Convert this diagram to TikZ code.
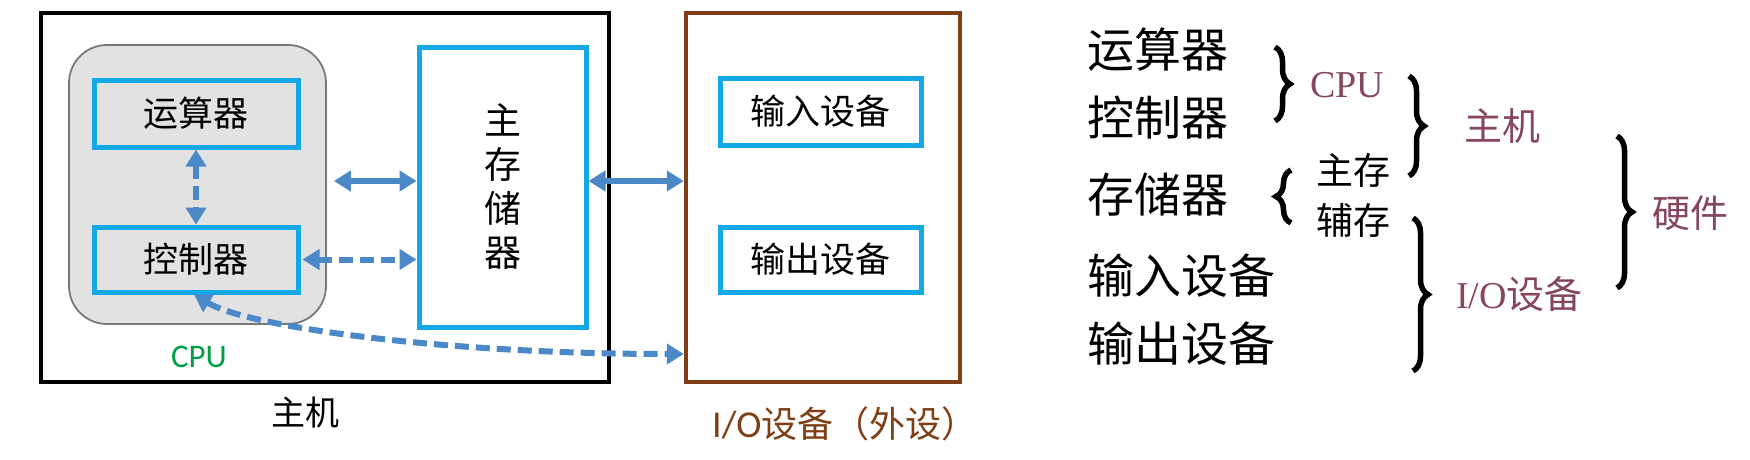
\documentclass[tikz,border=0pt]{standalone}
\usepackage{fontspec}
\setmainfont{Liberation Serif}
\newfontfamily\cjk{Noto Sans CJK SC}
\newfontfamily\carl{Carlito}
\newfontfamily\tnr{Liberation Serif}
\usetikzlibrary{arrows.meta,decorations.pathreplacing,calc}
\definecolor{boxblue}{RGB}{20,168,230}
\definecolor{arrblue}{RGB}{74,136,200}
\definecolor{iobrown}{RGB}{128,62,22}
\definecolor{cpugreen}{RGB}{0,160,70}
\definecolor{lblpurple}{RGB}{135,70,95}
\definecolor{cpugray}{RGB}{226,226,226}
\definecolor{cpuedge}{RGB}{120,120,120}
\begin{document}
\begin{tikzpicture}[x=1pt,y=-1pt,
  bluebox/.style={draw=boxblue,line width=5pt,inner sep=0pt},
  lefttxt/.style={font={\cjk\fontsize{35}{42}\selectfont}},
  arr/.style={draw=arrblue,line width=6pt,{Triangle[length=17pt,width=20pt]}-{Triangle[length=17pt,width=20pt]}},
  darr/.style={arr,line width=6pt,dash pattern=on 14pt off 7pt},
  brc/.style={draw=black,line width=5.5pt,decorate,decoration={brace,amplitude=15pt}},
  bigtxt/.style={anchor=west,inner sep=0pt,font={\cjk\fontsize{47}{56}\selectfont}},
  smalltxt/.style={anchor=west,inner sep=0pt,font={\cjk\fontsize{37}{44}\selectfont}},
  purp/.style={anchor=west,inner sep=0pt,text=lblpurple,font={\cjk\fontsize{38}{44}\selectfont}}
]
\useasboundingbox (0,0) rectangle (1750,459);
\fill[white] (0,0) rectangle (1750,459);

% host box
\node[draw=black,line width=4.5pt,minimum width=568pt,minimum height=369pt,inner sep=0pt] (host) at (325,197.5) {};
\node[draw=cpuedge,fill=cpugray,line width=1.8pt,rounded corners=38pt,minimum width=257pt,minimum height=279pt,inner sep=0pt] (cpu) at (197.5,184.5) {};
\node[bluebox,minimum width=204pt,minimum height=67pt,lefttxt] (alu) at (196,113.5) {运算器};
\node[bluebox,minimum width=204pt,minimum height=65pt,lefttxt] (cu) at (196,259.5) {控制器};
\node[bluebox,minimum width=167pt,minimum height=280pt,align=center,font={\cjk\fontsize{37}{44}\selectfont}] (mem) at (502.5,187) {主\\存\\储\\器};
\node[text=cpugreen,font={\carl\fontsize{33}{40}\selectfont},inner sep=0pt] (cpulbl) at (199,357) {CPU};
\node[font={\cjk\fontsize{34}{40}\selectfont},inner sep=0pt] (hostlbl) at (305,413) {主机};

% io box
\node[draw=iobrown,line width=4.5pt,minimum width=274pt,minimum height=369pt,inner sep=0pt] (io) at (823,197.5) {};
\node[bluebox,minimum width=201pt,minimum height=67pt,lefttxt] (inp) at (820.5,111.5) {输入设备};
\node[bluebox,minimum width=201pt,minimum height=65pt,lefttxt] (outp) at (820.5,259.5) {输出设备};
\node[text=iobrown,inner sep=0pt,anchor=west] (iolbl) at (712,424) {{\carl\fontsize{38}{44}\selectfont I/O}{\cjk\fontsize{36}{44}\selectfont 设备（外设）}};

% connectors
\draw[darr] (alu.south) -- (cu.north);
\draw[arr] ($(cpu.east)+(7,-3.5)$) -- (mem.west |- 0,181);
\draw[darr] ([xshift=2pt]cu.east) -- (mem.west |- cu.east);
\draw[arr] (mem.east |- 0,181) -- (io.west |- 0,181);
\draw[darr] ([xshift=-2pt]cu.south) .. controls (250,328) and (450,354) .. (io.west |- 0,354);

% right side
\node[bigtxt] (r1) at (1087,50) {运算器};
\node[bigtxt] (r2) at (1087,118) {控制器};
\node[bigtxt] (r3) at (1087,195) {存储器};
\node[bigtxt] (r4) at (1087,276) {输入设备};
\node[bigtxt] (r5) at (1087,344) {输出设备};

\coordinate (b1t) at (1275,47);
\coordinate (b1b) at (1275,121);
\draw[brc] (b1t) -- (b1b);
\node[anchor=west,inner sep=0pt,text=lblpurple,font={\tnr\fontsize{38}{44}\selectfont}] (cpur) at (1310,85) {CPU};

\coordinate (b2t) at (1409,76);
\coordinate (b2b) at (1409,176);
\draw[brc] (b2t) -- (b2b);
\node[purp] (hostr) at (1464,126) {主机};

\coordinate (b3t) at (1291,170);
\coordinate (b3b) at (1291,223);
\draw[brc] (b3b) -- (b3t);
\node[smalltxt] (mainm) at (1316,170) {主存};
\node[smalltxt] (auxm) at (1316,220) {辅存};

\coordinate (b4t) at (1413,218);
\coordinate (b4b) at (1413,371);
\draw[brc] (b4t) -- (b4b);
\node[anchor=west,inner sep=0pt,text=lblpurple] (ior) at (1456,294) {{\tnr\fontsize{38}{44}\selectfont I/O}{\cjk\fontsize{38}{44}\selectfont 设备}};

\coordinate (b5t) at (1617,136);
\coordinate (b5b) at (1617,288);
\draw[brc] (b5t) -- (b5b);
\node[purp] (hw) at (1652,213) {硬件};
\end{tikzpicture}
\end{document}
